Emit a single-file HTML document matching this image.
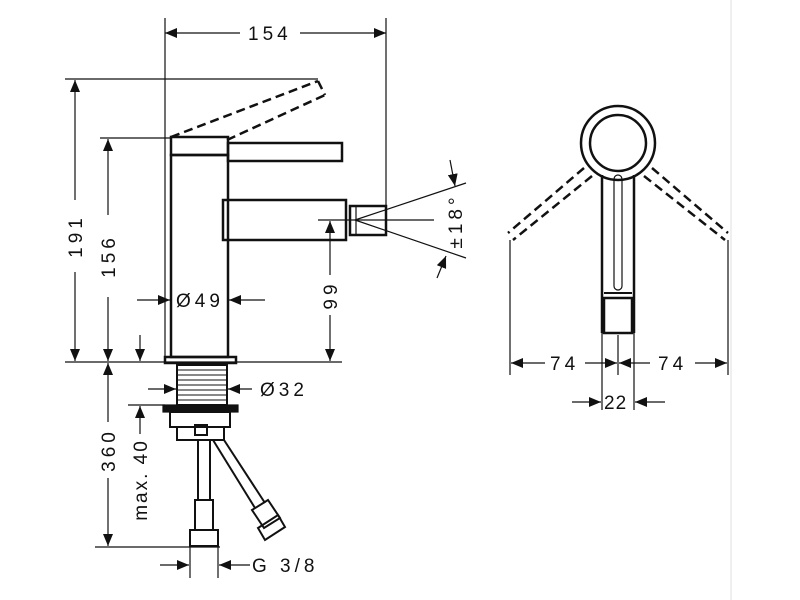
<!DOCTYPE html>
<html><head><meta charset="utf-8"><style>
html,body{margin:0;padding:0;background:#fff}
svg{display:block}
text{font-family:"Liberation Sans",sans-serif;font-size:19px;fill:#111;letter-spacing:4px}
</style></head><body>
<svg width="800" height="600" viewBox="0 0 800 600" xmlns="http://www.w3.org/2000/svg">
<defs>
<marker id="a" viewBox="0 0 12 10" refX="12" refY="5" markerWidth="12" markerHeight="10" markerUnits="userSpaceOnUse" orient="auto"><path d="M0,0L12,5L0,10z" fill="#111"/></marker>
</defs>
<g stroke="#111" fill="none" stroke-width="1.2">
<line x1="165" y1="18" x2="165" y2="360"/>
<line x1="386" y1="18" x2="386" y2="206"/>
<line x1="65" y1="79" x2="318" y2="79"/>
<line x1="100" y1="138" x2="172" y2="138"/>
<line x1="65" y1="362" x2="342" y2="362"/>
<line x1="318" y1="220" x2="434" y2="220"/>
<line x1="240" y1="33" x2="165" y2="33" marker-end="url(#a)"/>
<line x1="300" y1="33" x2="386" y2="33" marker-end="url(#a)"/>
<line x1="75" y1="200" x2="75" y2="80" marker-end="url(#a)"/>
<line x1="75" y1="272" x2="75" y2="361" marker-end="url(#a)"/>
<line x1="108" y1="215" x2="108" y2="139" marker-end="url(#a)"/>
<line x1="108" y1="297" x2="108" y2="361" marker-end="url(#a)"/>
<line x1="140" y1="335" x2="140" y2="361" marker-end="url(#a)"/>
<line x1="330" y1="275" x2="330" y2="221" marker-end="url(#a)"/>
<line x1="330" y1="315" x2="330" y2="361" marker-end="url(#a)"/>
<line x1="137" y1="300" x2="170" y2="300" marker-end="url(#a)"/>
<line x1="265" y1="300" x2="229" y2="300" marker-end="url(#a)"/>
<line x1="355" y1="220" x2="466" y2="183"/>
<line x1="355" y1="220" x2="466" y2="258"/>
<line x1="450" y1="160" x2="455" y2="186" marker-end="url(#a)"/>
<line x1="437" y1="278" x2="446" y2="256" marker-end="url(#a)"/>
<g stroke-width="2.5">
<rect x="171" y="137" width="57" height="18"/>
<rect x="171" y="155" width="57" height="202"/>
<rect x="165" y="357" width="71" height="6"/>
<rect x="228" y="143" width="114" height="18"/>
<rect x="223" y="200" width="123" height="40"/>
<rect x="350" y="206" width="36" height="29"/>
</g>
<line x1="356" y1="206" x2="356" y2="235"/>
<g stroke-dasharray="9,5" stroke-width="2.5">
<line x1="171" y1="137" x2="318" y2="81"/>
<line x1="227" y1="140" x2="325" y2="95"/>
<line x1="318" y1="81" x2="325" y2="95"/>
</g>
<rect x="177" y="365" width="50" height="40" stroke-width="2"/>
<g stroke-width="1">
<line x1="177" y1="370" x2="227" y2="370"/><line x1="177" y1="375" x2="227" y2="375"/>
<line x1="177" y1="380" x2="227" y2="380"/><line x1="177" y1="385" x2="227" y2="385"/>
<line x1="177" y1="390" x2="227" y2="390"/><line x1="177" y1="395" x2="227" y2="395"/>
<line x1="177" y1="400" x2="227" y2="400"/>
</g>
<rect x="163" y="405" width="75" height="7" fill="#111"/>
<rect x="170" y="412" width="60" height="15" stroke-width="2"/>
<rect x="177" y="427" width="47" height="13" stroke-width="2"/>
<rect x="195" y="425" width="12" height="10" stroke-width="2"/>
<g stroke-width="2">
<line x1="198" y1="440" x2="198" y2="500"/><line x1="210" y1="440" x2="210" y2="500"/>
<rect x="195" y="500" width="18" height="30"/>
<rect x="190" y="530" width="28" height="16"/>
<line x1="213" y1="440" x2="255" y2="508"/><line x1="224" y1="440" x2="265" y2="503"/>
<path d="M252,510 L268,500 L280,518 L264,528 Z"/>
<path d="M258,528 L278,515 L285,527 L265,540 Z"/>
</g>
<line x1="128" y1="405" x2="165" y2="405"/>
<line x1="95" y1="547" x2="220" y2="547"/>
<line x1="190" y1="547" x2="190" y2="578"/>
<line x1="218" y1="547" x2="218" y2="578"/>
<line x1="148" y1="389" x2="176" y2="389" marker-end="url(#a)"/>
<line x1="252" y1="389" x2="228" y2="389" marker-end="url(#a)"/>
<line x1="108" y1="422" x2="108" y2="363" marker-end="url(#a)"/>
<line x1="108" y1="478" x2="108" y2="546" marker-end="url(#a)"/>
<line x1="140" y1="434" x2="140" y2="406" marker-end="url(#a)"/>
<line x1="160" y1="565" x2="189" y2="565" marker-end="url(#a)"/>
<line x1="250" y1="565" x2="219" y2="565" marker-end="url(#a)"/>
<g stroke-width="2.5">
<circle cx="618" cy="143" r="37"/>
<circle cx="618" cy="143" r="28"/>
<line x1="602" y1="175" x2="602" y2="333"/><line x1="634" y1="175" x2="634" y2="333"/>
<rect x="604" y="298" width="28" height="35"/>
</g>
<rect x="614" y="175" width="8" height="115" rx="4"/>
<line x1="604" y1="293" x2="632" y2="293" stroke-width="2"/>
<g stroke-dasharray="9,5" stroke-width="2.5">
<line x1="584" y1="168" x2="508" y2="233"/><line x1="592" y1="176" x2="513" y2="240"/>
<line x1="652" y1="168" x2="728" y2="233"/><line x1="644" y1="176" x2="725" y2="240"/>
</g>
<line x1="510" y1="240" x2="510" y2="375"/>
<line x1="728" y1="240" x2="728" y2="375"/>
<line x1="618" y1="335" x2="618" y2="375"/>
<line x1="602" y1="333" x2="602" y2="410"/>
<line x1="634" y1="333" x2="634" y2="410"/>
<line x1="545" y1="363" x2="511" y2="363" marker-end="url(#a)"/>
<line x1="585" y1="363" x2="617" y2="363" marker-end="url(#a)"/>
<line x1="650" y1="363" x2="619" y2="363" marker-end="url(#a)"/>
<line x1="695" y1="363" x2="727" y2="363" marker-end="url(#a)"/>
<line x1="572" y1="402" x2="601" y2="402" marker-end="url(#a)"/>
<line x1="665" y1="402" x2="635" y2="402" marker-end="url(#a)"/>
<line x1="731" y1="0" x2="731" y2="600" stroke="#e4e4e4"/>
</g>
<text x="248" y="40">154</text>
<text transform="translate(82,236) rotate(-90)" text-anchor="middle">191</text>
<text transform="translate(115,256) rotate(-90)" text-anchor="middle">156</text>
<text transform="translate(337,295) rotate(-90)" text-anchor="middle">99</text>
<text transform="translate(462,221) rotate(-90)" text-anchor="middle">±18°</text>
<text x="176" y="307">Ø49</text>
<text x="260" y="396">Ø32</text>
<text transform="translate(115,450) rotate(-90)" text-anchor="middle">360</text>
<text transform="translate(147,480) rotate(-90)" text-anchor="middle" style="letter-spacing:2px">max. 40</text>
<text x="252" y="572">G 3/8</text>
<text x="550" y="370">74</text>
<text x="658" y="370">74</text>
<text x="604" y="409" style="letter-spacing:1px">22</text>
</svg>
</body></html>
